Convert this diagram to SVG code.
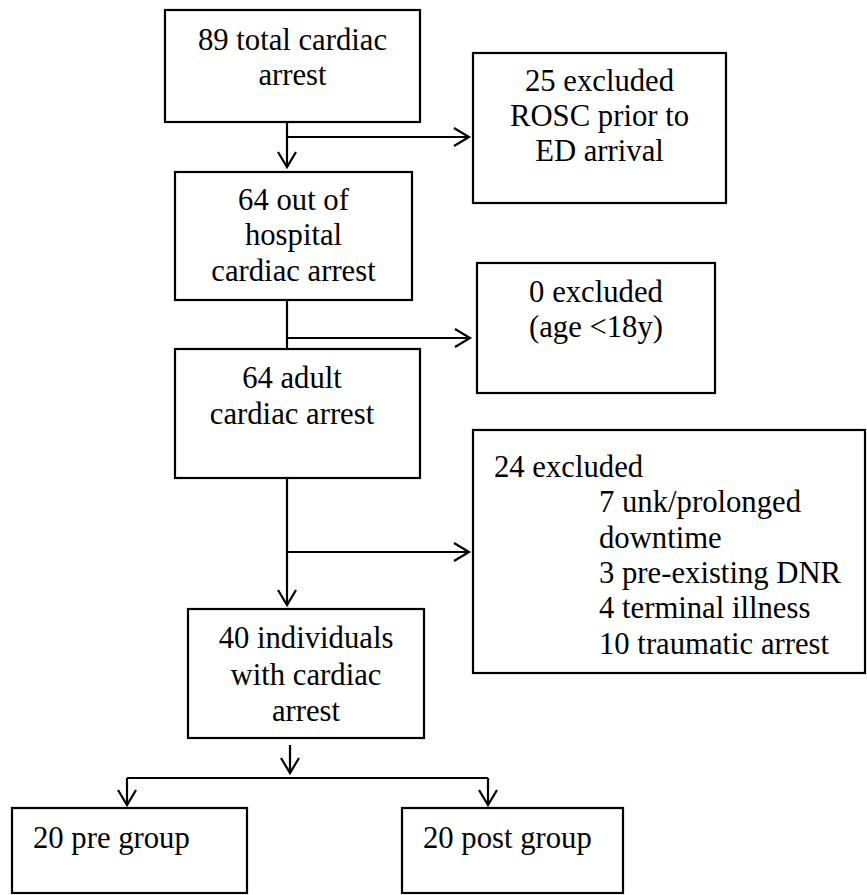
<svg xmlns="http://www.w3.org/2000/svg" width="867" height="895" viewBox="0 0 867 895">
<style>
rect{fill:#fff;stroke:#000;stroke-width:2.2}
.c{text-anchor:middle}
#connectors line{stroke:#000;stroke-width:2.2;fill:none}
</style>
<defs>
<marker id="ah" markerUnits="userSpaceOnUse" markerWidth="30" markerHeight="30" viewBox="-20 -15 30 30" refX="0" refY="0" orient="auto">
<path d="M-15,-9 L0,0 L-15,9" fill="none" stroke="#000" stroke-width="2.2"/>
</marker>
</defs>
<rect width="867" height="895" style="fill:#fff;stroke:none"/>
<g id="connectors">
<line x1="287" y1="122" x2="287" y2="167" marker-end="url(#ah)"/>
<line x1="287" y1="137" x2="469" y2="137" marker-end="url(#ah)"/>
<line x1="287" y1="300" x2="287" y2="349"/>
<line x1="287" y1="338" x2="470" y2="338" marker-end="url(#ah)"/>
<line x1="287" y1="478" x2="287" y2="605" marker-end="url(#ah)"/>
<line x1="287" y1="552" x2="469" y2="552" marker-end="url(#ah)"/>
<line x1="290" y1="745" x2="290" y2="773" marker-end="url(#ah)"/>
<line x1="127" y1="778" x2="488" y2="778"/>
<line x1="127" y1="778" x2="127" y2="805" marker-end="url(#ah)"/>
<line x1="488" y1="778" x2="488" y2="805" marker-end="url(#ah)"/>
</g>
<g font-family="Liberation Serif" font-size="30.7" fill="#000">
<g id="n_total">
<rect x="165" y="10" width="255" height="112"/>
<text class="c" x="292.5" y="50">89 total cardiac</text>
<text class="c" x="292.5" y="85">arrest</text>
</g>
<g id="n_rosc">
<rect x="473" y="53" width="253" height="150"/>
<text class="c" x="599.5" y="91">25 excluded</text>
<text class="c" x="599.5" y="126">ROSC prior to</text>
<text class="c" x="599.5" y="161">ED arrival</text>
</g>
<g id="n_ohca">
<rect x="175" y="172" width="237" height="128"/>
<text class="c" x="293.5" y="210">64 out of</text>
<text class="c" x="293.5" y="245">hospital</text>
<text class="c" x="293.5" y="281">cardiac arrest</text>
</g>
<g id="n_age">
<rect x="477" y="263" width="238" height="130"/>
<text class="c" x="596" y="302">0 excluded</text>
<text class="c" x="596" y="337">(age &lt;18y)</text>
</g>
<g id="n_adult">
<rect x="175" y="349" width="245" height="129"/>
<text class="c" x="292" y="388">64 adult</text>
<text class="c" x="292" y="424">cardiac arrest</text>
</g>
<g id="n_excl24">
<rect x="473" y="430" width="392" height="243"/>
<text x="494" y="477">24 excluded</text>
<text x="599" y="512">7 unk/prolonged</text>
<text x="599" y="548">downtime</text>
<text x="599" y="583">3 pre-existing DNR</text>
<text x="599" y="618">4 terminal illness</text>
<text x="599" y="654">10 traumatic arrest</text>
</g>
<g id="n_40">
<rect x="188" y="609" width="236" height="129"/>
<text class="c" x="306" y="648">40 individuals</text>
<text class="c" x="306" y="685">with cardiac</text>
<text class="c" x="306" y="721">arrest</text>
</g>
<g id="n_pre">
<rect x="12" y="808" width="235" height="85"/>
<text x="33" y="848">20 pre group</text>
</g>
<g id="n_post">
<rect x="402" y="808" width="221" height="85"/>
<text x="423" y="848">20 post group</text>
</g>
</g>
</svg>
